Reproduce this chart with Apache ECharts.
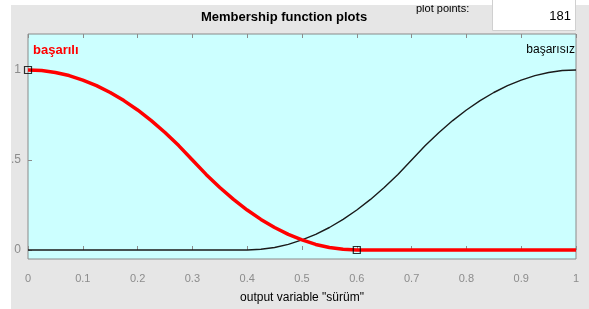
<!DOCTYPE html>
<html>
<head>
<meta charset="utf-8">
<script src="https://cdn.jsdelivr.net/npm/echarts@6/dist/echarts.min.js"></script>
<style>
  html, body { margin: 0; padding: 0; background: #fff; }
  #chart { width: 589px; height: 309px; }
</style>
</head>
<body>
<div id="chart"></div>
<script>
// x değerleri (output variable "sürüm")
let xValues = [0, 0.025, 0.05, 0.075, 0.1, 0.125, 0.15, 0.175, 0.2, 0.225, 0.25, 0.275, 0.3, 0.325, 0.35, 0.375, 0.4, 0.425, 0.45, 0.475, 0.5,
  0.525, 0.55, 0.575, 0.6, 0.625, 0.65, 0.675, 0.7, 0.725, 0.75, 0.775, 0.8, 0.825, 0.85, 0.875, 0.9, 0.925, 0.95, 0.975, 1];
// başarılı (kırmızı)
let basariliValues = [1, 0.997, 0.986, 0.969, 0.944, 0.913, 0.875, 0.83, 0.778, 0.719, 0.653, 0.58, 0.5, 0.42, 0.347, 0.281, 0.222, 0.17, 0.125, 0.087, 0.056,
  0.031, 0.014, 0.004, 0, 0, 0, 0, 0, 0, 0, 0, 0, 0, 0, 0, 0, 0, 0, 0, 0];
// başarısız (siyah)
let basarisizValues = [0, 0, 0, 0, 0, 0, 0, 0, 0, 0, 0, 0, 0, 0, 0, 0, 0, 0.004, 0.014, 0.031, 0.056,
  0.087, 0.125, 0.17, 0.222, 0.281, 0.347, 0.42, 0.5, 0.58, 0.653, 0.719, 0.778, 0.83, 0.875, 0.913, 0.944, 0.969, 0.986, 0.997, 1];
// kare işaretler
let markerPoints = [[0, 1], [0.6, 0]];
let xTicks = [0, 0.1, 0.2, 0.3, 0.4, 0.5, 0.6, 0.7, 0.8, 0.9, 1];
let yTicks = [0, 0.5, 1];
let plotPoints = "181";

function pairs(ys) {
  return xValues.map(function (x, i) { return [x, ys[i]]; });
}

var myChart = echarts.init(document.getElementById("chart"));
var font = "Liberation Sans, Arial, sans-serif";
var axisGray = "#8c8c8c";

option = {
  backgroundColor: "#e6e6e6",
  animation: false,
  grid: { left: 28, right: 13, top: 34, bottom: 47, show: true, backgroundColor: "#ccffff", borderColor: "#8a8a8a", borderWidth: 1 },
  graphic: [
    { type: "text", left: 416, top: 3, style: { text: "plot points:", font: "11px " + font, fill: "#000" }, z: 3 },
    { type: "rect", left: 0, top: 0, shape: { width: 589, height: 5 }, style: { fill: "#fff" }, z: 4 },
    { type: "rect", left: 0, top: 0, shape: { width: 11, height: 309 }, style: { fill: "#fff" }, z: 4 },
    { type: "rect", left: 492, top: -2, shape: { width: 83, height: 32 }, style: { fill: "#fff", stroke: "#d0d0d0" }, z: 5 },
    { type: "text", right: 18, top: 10, style: { text: plotPoints, font: "13px " + font, fill: "#000" }, z: 6 },
    { type: "text", left: 201, top: 11, style: { text: "Membership function plots", font: "bold 13px " + font, fill: "#000" }, z: 3 },
    { type: "text", left: 33, top: 44, style: { text: "başarılı", font: "bold 13px " + font, fill: "#ff0000" }, z: 5 },
    { type: "text", right: 14, top: 44, style: { text: "başarısız", font: "12px " + font, fill: "#000" }, z: 5 }
  ],
  xAxis: [
    {
      type: "value", min: 0, max: 1, interval: 0.1,
      name: 'output variable "sürüm"', nameLocation: "middle", nameGap: 33,
      nameTextStyle: { color: "#000", fontSize: 12, fontFamily: font },
      axisLine: { show: false },
      axisTick: { show: true, inside: true, length: 4, lineStyle: { color: axisGray } },
      axisLabel: { color: axisGray, fontSize: 11, fontFamily: font, margin: 14 },
      splitLine: { show: false }
    },
    {
      type: "value", min: 0, max: 1, interval: 0.1, position: "top",
      axisLine: { show: false },
      axisTick: { show: true, inside: true, length: 4, lineStyle: { color: axisGray } },
      axisLabel: { show: false },
      splitLine: { show: false }
    }
  ],
  yAxis: [
    {
      type: "value", min: -0.05, max: 1.2,
      axisLine: { show: false },
      axisTick: { show: true, inside: true, length: 4, customValues: yTicks, lineStyle: { color: axisGray } },
      axisLabel: {
        color: axisGray, fontSize: 12, fontFamily: font, margin: 7, customValues: yTicks,
        formatter: function (v) { return v === 0.5 ? ".5" : String(v); }
      },
      splitLine: { show: false }
    }
  ],
  series: [
    {
      name: "başarısız", type: "line", data: pairs(basarisizValues),
      smooth: false, showSymbol: false,
      lineStyle: { color: "#1a1a1a", width: 1.4 }, z: 3
    },
    {
      name: "başarılı", type: "line", data: pairs(basariliValues),
      smooth: false, showSymbol: false,
      lineStyle: { color: "#ff0000", width: 3.5 }, z: 4
    },
    {
      type: "scatter", data: markerPoints, symbol: "rect", symbolSize: 7,
      itemStyle: { color: "rgba(0,0,0,0)", borderColor: "#000", borderWidth: 1.2 }, z: 6
    }
  ]
};
myChart.setOption(option);
</script>
</body>
</html>
